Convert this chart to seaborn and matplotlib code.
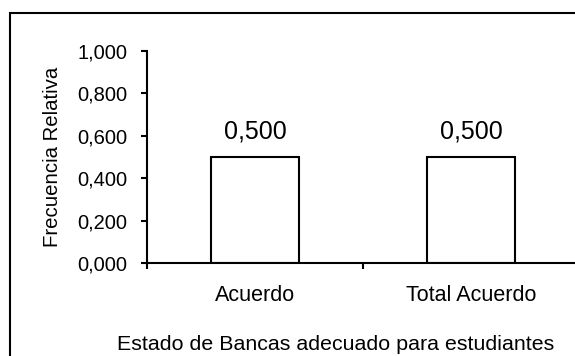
import matplotlib
matplotlib.use("Agg")
import matplotlib.pyplot as plt
from matplotlib.patches import Rectangle
from matplotlib.ticker import FuncFormatter
import seaborn as sns
import pandas as pd

CATEGORIES = ["Acuerdo", "Total Acuerdo"]
FRECUENCIAS = [0.5, 0.5]
Y_TICKS = [0.0, 0.2, 0.4, 0.6, 0.8, 1.0]


def coma(v, pos=None):
    """Decimal con coma, tres cifras"""
    return ("%.3f" % v).replace(".", ",")


def main():
    sns.set_theme(style="white")
    plt.rcParams["font.family"] = ["Liberation Sans", "DejaVu Sans"]
    plt.rcParams["text.color"] = "black"
    plt.rcParams["axes.labelcolor"] = "black"

    df = pd.DataFrame({"Categoria": CATEGORIES, "Frecuencia": FRECUENCIAS})

    fig = plt.figure(figsize=(5.75, 3.56), dpi=100)
    ax = fig.add_axes([147 / 575, 93 / 356, 432 / 575, 212 / 356])

    sns.barplot(data=df, x="Categoria", y="Frecuencia", ax=ax,
                color="white", edgecolor="black", linewidth=1.5,
                width=0.41, saturation=1)

    ax.set_xlim(-0.5, 1.5)
    ax.set_ylim(0, 1)
    ax.set_yticks(Y_TICKS)
    ax.yaxis.set_major_formatter(FuncFormatter(coma))

    ax.bar_label(ax.containers[0], labels=[coma(v) for v in FRECUENCIAS],
                 padding=10, fontsize=18, color="black")

    # ticks del eje x en los bordes de las categorias
    ax.set_xticks([-0.5, 0.5, 1.5], minor=True)
    ax.tick_params(axis="x", which="major", length=0, pad=15.5, labelsize=15.5)
    ax.tick_params(axis="x", which="minor", length=4, width=1.5,
                   direction="out", color="black", bottom=True)
    ax.tick_params(axis="y", length=4, width=1.5, direction="out",
                   color="black", pad=10, labelsize=14.5, left=True)
    ax.tick_params(colors="black")

    for side in ["top", "right"]:
        ax.spines[side].set_visible(False)
    for side in ["left", "bottom"]:
        ax.spines[side].set_color("black")
        ax.spines[side].set_linewidth(1.5)

    ax.set_xlabel("Estado de Bancas adecuado para estudiantes",
                  fontsize=15.4, color="black")
    ax.xaxis.set_label_coords((336 - 147) / 432, -72 / 212)
    ax.set_ylabel("Frecuencia Relativa", fontsize=14.7, labelpad=11,
                  color="black")

    # marco del grafico
    fig.patches.append(Rectangle((10 / 575, -0.1), 1.2, 1.1 - 12.5 / 356,
                                 transform=fig.transFigure, fill=False,
                                 edgecolor="black", linewidth=1.5))

    fig.savefig("out.png", dpi=100)


if __name__ == "__main__":
    main()
